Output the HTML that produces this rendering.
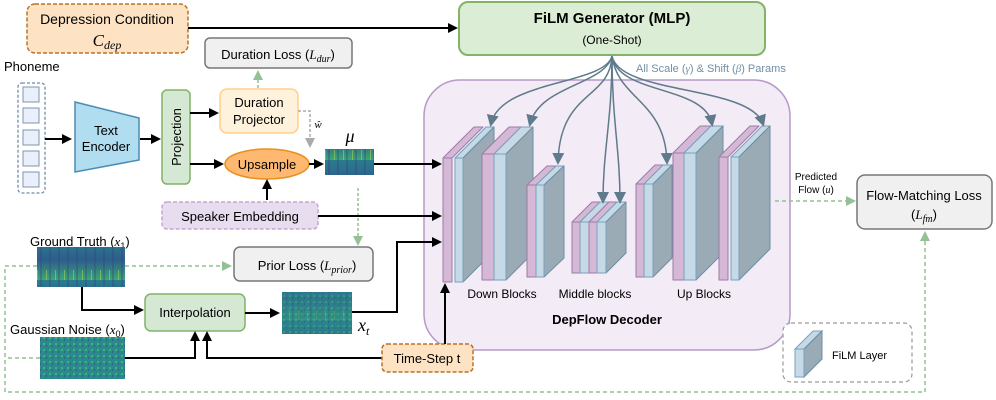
<!DOCTYPE html>
<html><head><meta charset="utf-8"><style>
body{margin:0;background:#fff}
svg{display:block;font-family:"Liberation Sans",sans-serif}
</style></head><body>
<svg width="996" height="400" viewBox="0 0 996 400" xmlns="http://www.w3.org/2000/svg">
<defs>
<marker id="ab" markerWidth="10" markerHeight="10" refX="8" refY="5" orient="auto" markerUnits="userSpaceOnUse"><path d="M0,0 L10,5 L0,10 z" fill="#000"/></marker>
<marker id="ag" markerWidth="10" markerHeight="10" refX="8" refY="5" orient="auto" markerUnits="userSpaceOnUse"><path d="M0,0 L10,5 L0,10 z" fill="#93c193"/></marker>
<marker id="agr" markerWidth="10" markerHeight="10" refX="8" refY="5" orient="auto" markerUnits="userSpaceOnUse"><path d="M0,0 L10,5 L0,10 z" fill="#aaa"/></marker>
<marker id="as" markerWidth="12" markerHeight="12" refX="9" refY="6" orient="auto" markerUnits="userSpaceOnUse"><path d="M0,0 L12,6 L0,12 z" fill="#5f7a8a"/></marker>
<linearGradient id="spec" x1="0" y1="0" x2="0" y2="1"><stop offset="0" stop-color="#2a7d8e"/><stop offset="0.5" stop-color="#2c5e8c"/><stop offset="1" stop-color="#3aa776"/></linearGradient>
<pattern id="stripes" width="9" height="40" patternUnits="userSpaceOnUse"><rect width="9" height="40" fill="url(#spec)"/><rect x="4" width="2" height="40" fill="#3b3f7f" opacity="0.35"/><rect x="1" y="30" width="1" height="10" fill="#b7de4a" opacity="0.5"/></pattern>
<pattern id="noise" width="6" height="6" patternUnits="userSpaceOnUse"><rect width="6" height="6" fill="#2a8a8a"/><rect x="1" y="1" width="2" height="2" fill="#3fb47a"/><rect x="4" y="3" width="1" height="2" fill="#2f5f8c"/></pattern>
</defs>

<!-- Decoder background (drawn first) -->
<rect x="424" y="80" width="366" height="270" rx="36" fill="#f3ebf5" stroke="#b59ac7" stroke-width="1.5"/>

<!-- Depression condition -->
<rect x="27" y="4" width="161" height="49" rx="8" fill="#fde3c4" stroke="#b8732a" stroke-width="1.5" stroke-dasharray="4,2"/>
<text x="107" y="24" font-size="14" text-anchor="middle">Depression Condition</text>
<text x="107" y="46" font-size="17" text-anchor="middle" font-family="Liberation Serif" font-style="italic">C<tspan font-size="12" dy="3">dep</tspan></text>
<line x1="188" y1="28" x2="456" y2="28" stroke="#000" stroke-width="2" marker-end="url(#ab)"/>

<!-- FiLM generator -->
<rect x="459" y="2" width="306" height="53" rx="9" fill="#dcedd5" stroke="#82b366" stroke-width="2"/>
<text x="612" y="23" font-size="15" font-weight="bold" text-anchor="middle">FiLM Generator (MLP)</text>
<text x="612" y="44" font-size="12" text-anchor="middle">(One-Shot)</text>
<text x="636" y="72" font-size="11" fill="#6f8fa6">All Scale (<tspan font-family="Liberation Serif" font-style="italic">γ</tspan>) &amp; Shift (<tspan font-family="Liberation Serif" font-style="italic">β</tspan>) Params</text>

<!-- Duration loss -->
<rect x="205" y="38" width="147" height="30" rx="5" fill="#f0f0f0" stroke="#777" stroke-width="1.5"/>
<text x="278" y="59" font-size="13" text-anchor="middle">Duration Loss (<tspan font-family="Liberation Serif" font-style="italic">L<tspan font-size="10" dy="3">dur</tspan></tspan><tspan dy="-3">)</tspan></text>
<line x1="258" y1="88" x2="258" y2="72" stroke="#93c193" stroke-width="1.5" stroke-dasharray="3,2" marker-end="url(#ag)"/>

<!-- Phoneme -->
<text x="4" y="71" font-size="13">Phoneme</text>
<rect x="18" y="83" width="27" height="110" rx="4" fill="#fff" stroke="#6d8fa6" stroke-width="1.3" stroke-dasharray="3,2"/>
<g fill="#e9f0fb" stroke="#7f96ad"><rect x="23" y="87" width="16" height="15"/><rect x="23" y="108" width="16" height="15"/><rect x="23" y="130" width="16" height="15"/><rect x="23" y="151" width="16" height="15"/><rect x="23" y="172" width="16" height="15"/></g>
<line x1="45" y1="139" x2="70" y2="139" stroke="#000" stroke-width="2" marker-end="url(#ab)"/>

<!-- Text encoder -->
<polygon points="75,102 139,118 139,160 75,172" fill="#b1ddf0" stroke="#4b8cb6" stroke-width="1.5"/>
<text x="106" y="135" font-size="13" text-anchor="middle">Text</text>
<text x="106" y="151" font-size="13" text-anchor="middle">Encoder</text>
<line x1="140" y1="139" x2="159" y2="139" stroke="#000" stroke-width="2" marker-end="url(#ab)"/>

<!-- Projection -->
<rect x="162" y="90" width="28" height="94" rx="5" fill="#d5e8d4" stroke="#82b366" stroke-width="1.5"/>
<text transform="translate(181,137) rotate(-90)" font-size="13" text-anchor="middle">Projection</text>
<line x1="190" y1="113" x2="217" y2="113" stroke="#000" stroke-width="2" marker-end="url(#ab)"/>
<line x1="190" y1="164" x2="222" y2="164" stroke="#000" stroke-width="2" marker-end="url(#ab)"/>

<!-- Duration projector -->
<rect x="220" y="89" width="78" height="44" rx="7" fill="#fff2dc" stroke="#ffd08a" stroke-width="1.5"/>
<text x="259" y="107" font-size="13" text-anchor="middle">Duration</text>
<text x="259" y="124" font-size="13" text-anchor="middle">Projector</text>
<polyline points="298,111 310,111 310,146" fill="none" stroke="#aaa" stroke-width="1.5" stroke-dasharray="3,2" marker-end="url(#agr)"/>
<text x="318" y="128" font-size="11" font-family="Liberation Serif" font-style="italic" text-anchor="middle">ŵ</text>

<!-- Upsample -->
<ellipse cx="267" cy="164" rx="42" ry="15" fill="#ffb870" stroke="#e8901e" stroke-width="1.5"/>
<text x="267" y="169" font-size="13" text-anchor="middle">Upsample</text>
<line x1="309" y1="164" x2="322" y2="164" stroke="#000" stroke-width="2" marker-end="url(#ab)"/>
<text x="350" y="142" font-size="18" font-family="Liberation Serif" font-style="italic" text-anchor="middle">μ</text>
<rect x="325" y="149" width="49" height="26" fill="url(#stripes)"/>
<line x1="374" y1="164" x2="440" y2="164" stroke="#000" stroke-width="2" marker-end="url(#ab)"/>
<line x1="358" y1="188" x2="358" y2="244" stroke="#93c193" stroke-width="1.5" stroke-dasharray="3,2" marker-end="url(#ag)"/>

<!-- Speaker embedding -->
<rect x="162" y="202" width="156" height="27" rx="5" fill="#e8dcef" stroke="#c4a6d4" stroke-width="1.5" stroke-dasharray="4,2"/>
<text x="240" y="221" font-size="13" text-anchor="middle">Speaker  Embedding</text>
<line x1="267" y1="200" x2="267" y2="181" stroke="#000" stroke-width="2" marker-end="url(#ab)"/>
<line x1="318" y1="216" x2="440" y2="216" stroke="#000" stroke-width="2" marker-end="url(#ab)"/>

<!-- Prior loss -->
<rect x="234" y="247" width="139" height="34" rx="6" fill="#f0f0f0" stroke="#777" stroke-width="1.5"/>
<text x="307" y="270" font-size="13" text-anchor="middle">Prior Loss (<tspan font-family="Liberation Serif" font-style="italic">L<tspan font-size="10" dy="3">prior</tspan></tspan><tspan dy="-3">)</tspan></text>

<!-- Ground truth -->
<text x="30" y="246" font-size="13">Ground Truth (<tspan font-family="Liberation Serif" font-style="italic">x</tspan><tspan font-size="9" dy="3">1</tspan><tspan dy="-3">)</tspan></text>
<rect x="37" y="247" width="88" height="40" fill="url(#stripes)"/>
<polyline points="125,266 230,266" fill="none" stroke="#93c193" stroke-width="1.5" stroke-dasharray="4,3" marker-end="url(#ag)"/>
<polyline points="37,266 5,266 5,392 925,392 925,233" fill="none" stroke="#93c193" stroke-width="1.5" stroke-dasharray="4,3" marker-end="url(#ag)"/>
<polyline points="40,358 7,358" fill="none" stroke="#93c193" stroke-width="1.5" stroke-dasharray="4,3"/>
<polyline points="82,287 82,310 142,310" fill="none" stroke="#000" stroke-width="2" marker-end="url(#ab)"/>

<!-- Interpolation -->
<rect x="145" y="294" width="100" height="37" rx="6" fill="#d5e8d4" stroke="#82b366" stroke-width="1.5"/>
<text x="195" y="317" font-size="13" text-anchor="middle">Interpolation</text>
<line x1="245" y1="313" x2="278" y2="313" stroke="#000" stroke-width="2" marker-end="url(#ab)"/>
<rect x="282" y="292" width="70" height="42" fill="url(#noise)"/>
<rect x="282" y="292" width="70" height="42" fill="url(#stripes)" opacity="0.35"/>
<text x="358" y="331" font-size="18" font-family="Liberation Serif" font-style="italic">x<tspan font-size="12" dy="4">t</tspan></text>
<polyline points="352,312 397,312 397,242 440,242" fill="none" stroke="#000" stroke-width="2" marker-end="url(#ab)"/>

<!-- Gaussian noise -->
<text x="10" y="334" font-size="13">Gaussian Noise (<tspan font-family="Liberation Serif" font-style="italic">x</tspan><tspan font-size="9" dy="3">0</tspan><tspan dy="-3">)</tspan></text>
<rect x="40" y="337" width="85" height="42" fill="url(#noise)"/>
<polyline points="125,358 195,358 195,333" fill="none" stroke="#000" stroke-width="2" marker-end="url(#ab)"/>
<polyline points="382,358 207,358 207,333" fill="none" stroke="#000" stroke-width="2" marker-end="url(#ab)"/>

<!-- Time step -->
<rect x="382" y="344" width="91" height="28" rx="5" fill="#fde3c4" stroke="#b8732a" stroke-width="1.5" stroke-dasharray="4,2"/>
<text x="427" y="363" font-size="13" text-anchor="middle">Time-Step t</text>

<line x1="445" y1="344" x2="445" y2="285" stroke="#000" stroke-width="2" marker-end="url(#ab)"/>
<text x="607" y="324" font-size="13" font-weight="bold" text-anchor="middle">DepFlow Decoder</text>
<text x="502" y="298" font-size="12" text-anchor="middle">Down Blocks</text>
<text x="595" y="298" font-size="12" text-anchor="middle">Middle blocks</text>
<text x="704" y="298" font-size="12" text-anchor="middle">Up Blocks</text>

<g stroke-width="1" stroke-linejoin="round">
<polygon points="443,158 474,127 483,127 452,158" fill="#d5b8d6" stroke="#9f7aa8"/>
<rect x="443" y="158" width="9" height="124" fill="#d5b8d6" stroke="#9f7aa8"/>
<polygon points="455,158 486,127 494,127 463,158" fill="#c5dae6" stroke="#7aa0be"/>
<polygon points="463,158 494,127 494,251 463,282" fill="#9aabb5" stroke="#6c8ea6"/>
<rect x="455" y="158" width="8" height="124" fill="#c5dae6" stroke="#7aa0be"/>
<polygon points="482,154 509,127 521,127 494,154" fill="#d5b8d6" stroke="#9f7aa8"/>
<polygon points="494,154 521,127 533,127 506,154" fill="#c5dae6" stroke="#7aa0be"/>
<polygon points="506,154 533,127 533,253 506,280" fill="#9aabb5" stroke="#6c8ea6"/>
<rect x="482" y="154" width="12" height="126" fill="#d5b8d6" stroke="#9f7aa8"/>
<rect x="494" y="154" width="12" height="126" fill="#c5dae6" stroke="#7aa0be"/>
<polygon points="527,185 547,166 556,166 536,185" fill="#d5b8d6" stroke="#9f7aa8"/>
<polygon points="536,185 556,166 564,166 544,185" fill="#c5dae6" stroke="#7aa0be"/>
<polygon points="544,185 564,166 564,258 544,277" fill="#9aabb5" stroke="#6c8ea6"/>
<rect x="527" y="185" width="9" height="92" fill="#d5b8d6" stroke="#9f7aa8"/>
<rect x="536" y="185" width="8" height="92" fill="#c5dae6" stroke="#7aa0be"/>
<polygon points="572,222 592,202 600,202 580,222" fill="#d5b8d6" stroke="#9f7aa8"/>
<polygon points="580,222 600,202 609,202 589,222" fill="#c5dae6" stroke="#7aa0be"/>
<polygon points="589,222 609,202 617,202 597,222" fill="#d5b8d6" stroke="#9f7aa8"/>
<polygon points="597,222 617,202 626,202 606,222" fill="#c5dae6" stroke="#7aa0be"/>
<polygon points="606,222 626,202 626,253 606,273" fill="#9aabb5" stroke="#6c8ea6"/>
<rect x="572" y="222" width="8" height="51" fill="#d5b8d6" stroke="#9f7aa8"/>
<rect x="580" y="222" width="9" height="51" fill="#c5dae6" stroke="#7aa0be"/>
<rect x="589" y="222" width="8" height="51" fill="#d5b8d6" stroke="#9f7aa8"/>
<rect x="597" y="222" width="9" height="51" fill="#c5dae6" stroke="#7aa0be"/>
<polygon points="636,184 655,165 663,165 644,184" fill="#d5b8d6" stroke="#9f7aa8"/>
<polygon points="644,184 663,165 672,165 653,184" fill="#c5dae6" stroke="#7aa0be"/>
<polygon points="653,184 672,165 672,258 653,277" fill="#9aabb5" stroke="#6c8ea6"/>
<rect x="636" y="184" width="8" height="93" fill="#d5b8d6" stroke="#9f7aa8"/>
<rect x="644" y="184" width="9" height="93" fill="#c5dae6" stroke="#7aa0be"/>
<polygon points="673,153 700,126 711,126 684,153" fill="#d5b8d6" stroke="#9f7aa8"/>
<polygon points="684,153 711,126 723,126 696,153" fill="#c5dae6" stroke="#7aa0be"/>
<polygon points="696,153 723,126 723,253 696,280" fill="#9aabb5" stroke="#6c8ea6"/>
<rect x="673" y="153" width="11" height="127" fill="#d5b8d6" stroke="#9f7aa8"/>
<rect x="684" y="153" width="12" height="127" fill="#c5dae6" stroke="#7aa0be"/>
<polygon points="719,157 750,126 759,126 728,157" fill="#d5b8d6" stroke="#9f7aa8"/>
<rect x="719" y="157" width="9" height="123" fill="#d5b8d6" stroke="#9f7aa8"/>
<polygon points="731,157 762,126 770,126 739,157" fill="#c5dae6" stroke="#7aa0be"/>
<polygon points="739,157 770,126 770,249 739,280" fill="#9aabb5" stroke="#6c8ea6"/>
<rect x="731" y="157" width="8" height="123" fill="#c5dae6" stroke="#7aa0be"/>
</g>

<g fill="none" stroke="#5f7a8a" stroke-width="1.5">
<path d="M612,56 C605,85 500,80 491,124" marker-end="url(#as)"/>
<path d="M612,56 C605,85 540,85 530,124" marker-end="url(#as)"/>
<path d="M612,56 C610,100 560,90 558,162" marker-end="url(#as)"/>
<path d="M612,56 C612,120 603,150 603,201" marker-end="url(#as)"/>
<path d="M612,56 C612,120 620,150 620,201" marker-end="url(#as)"/>
<path d="M612,56 C618,100 665,100 667,162" marker-end="url(#as)"/>
<path d="M612,56 C618,95 705,85 712,124" marker-end="url(#as)"/>
<path d="M612,56 C620,95 750,85 763,124" marker-end="url(#as)"/>
</g>

<text x="816" y="180" font-size="10" text-anchor="middle">Predicted</text>
<text x="816" y="193" font-size="10" text-anchor="middle">Flow (<tspan font-family="Liberation Serif" font-style="italic">u</tspan>)</text>
<line x1="775" y1="201" x2="854" y2="201" stroke="#93c193" stroke-width="1.5" stroke-dasharray="4,3" marker-end="url(#ag)"/>
<rect x="857" y="175" width="135" height="54" rx="8" fill="#f0f0f0" stroke="#777" stroke-width="1.5"/>
<text x="924" y="200" font-size="13" text-anchor="middle">Flow-Matching Loss</text>
<text x="924" y="219" font-size="13" text-anchor="middle">(<tspan font-family="Liberation Serif" font-style="italic">L<tspan font-size="10" dy="3">fm</tspan></tspan><tspan dy="-3">)</tspan></text>

<rect x="783" y="323" width="129" height="59" rx="8" fill="#fff" stroke="#999" stroke-width="1.2" stroke-dasharray="4,3"/>
<polygon points="795,349 813,331 822,331 804,349" fill="#c5dae6" stroke="#7aa0be"/>
<polygon points="804,349 822,331 822,359 804,377" fill="#9aabb5" stroke="#6c8ea6"/>
<rect x="795" y="349" width="9" height="28" fill="#c5dae6" stroke="#7aa0be"/>
<text x="832" y="359" font-size="11">FiLM Layer</text>
</svg>
</body></html>
